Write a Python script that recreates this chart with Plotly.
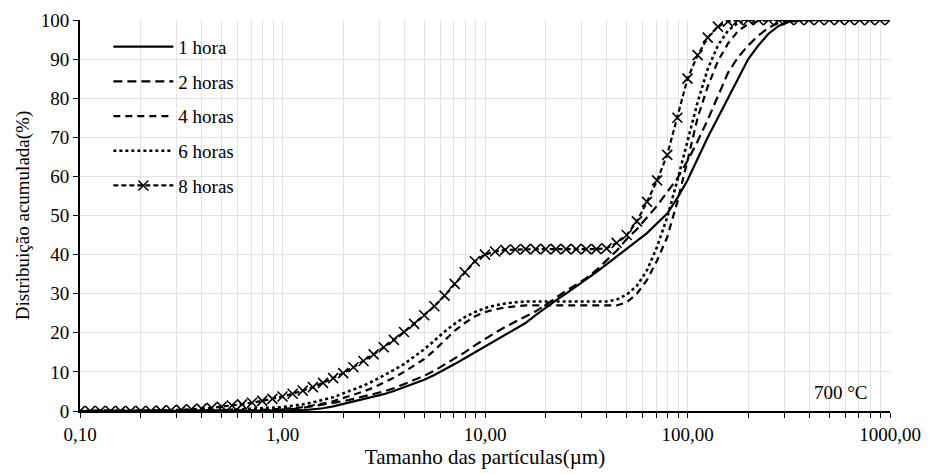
import plotly.graph_objects as go

# particle size classes (µm), 20 per decade
size_um = [0.1, 0.1122, 0.1259, 0.1413, 0.1585, 0.1778, 0.1995, 0.2239, 0.2512, 0.2818,
           0.3162, 0.3548, 0.3981, 0.4467, 0.5012, 0.5623, 0.6310, 0.7079, 0.7943, 0.8913,
           1.0, 1.122, 1.259, 1.413, 1.585, 1.778, 1.995, 2.239, 2.512, 2.818,
           3.162, 3.548, 3.981, 4.467, 5.012, 5.623, 6.310, 7.079, 7.943, 8.913,
           10.0, 11.22, 12.59, 14.13, 15.85, 17.78, 19.95, 22.39, 25.12, 28.18,
           31.62, 35.48, 39.81, 44.67, 50.12, 56.23, 63.10, 70.79, 79.43, 89.13,
           100.0, 112.2, 125.9, 141.3, 158.5, 177.8, 199.5, 223.9, 251.2, 281.8,
           316.2, 354.8, 398.1, 446.7, 501.2, 562.3, 631.0, 707.9, 794.3, 891.3, 1000.0]

h1 = [0]*20 + [0.0, 0.1, 0.2, 0.4, 0.7, 1.2, 1.8, 2.4, 3.0, 3.6,
               4.3, 5.1, 6.0, 7.0, 8.0, 9.2, 10.5, 12.0, 13.5, 15.0,
               16.5, 18.0, 19.5, 21.0, 22.5, 24.5, 26.5, 28.3, 30.0, 31.8,
               33.5, 35.5, 37.5, 39.5, 41.5, 43.5, 45.5, 48.0, 50.5, 54.5,
               59.0, 64.5, 70.0, 75.0, 80.0, 85.0, 90.0, 93.5, 96.5, 98.5,
               99.5, 99.9, 100, 100, 100, 100, 100, 100, 100, 100, 100]

h2 = [0]*14 + [0.02, 0.05, 0.08, 0.12, 0.17, 0.23,
               0.3, 0.5, 0.8, 1.2, 1.6, 2.0, 2.5, 3.1, 3.7, 4.3,
               5.0, 5.8, 6.8, 7.9, 9.0, 10.3, 11.8, 13.3, 15.0, 16.8,
               18.5, 20.0, 21.5, 22.8, 24.0, 25.5, 27.2, 29.0, 30.7, 32.3,
               34.0, 36.0, 38.5, 41.0, 44.0, 46.5, 49.5, 52.5, 56.0, 59.5,
               64.0, 69.0, 74.5, 80.5, 86.5, 90.5, 93.5, 96.0, 98.0, 99.3,
               99.8, 100, 100, 100, 100, 100, 100, 100, 100, 100, 100]

h4 = [0]*14 + [0.03, 0.07, 0.12, 0.2, 0.3, 0.4,
               0.5, 0.7, 1.0, 1.4, 1.9, 2.5, 3.3, 4.1, 5.0, 6.0,
               7.2, 8.5, 10.0, 11.6, 13.3, 15.5, 18.0, 20.5, 22.5, 24.2,
               25.3, 26.0, 26.5, 26.8, 27.0, 27.0, 27.0, 27.0, 27.0, 27.0,
               27.0, 27.0, 27.0, 27.0, 27.8, 30.0, 33.5, 38.5, 44.5, 53.5,
               64.0, 75.0, 83.0, 89.5, 94.0, 97.2, 99.0, 99.7, 100, 100,
               100, 100, 100, 100, 100, 100, 100, 100, 100, 100, 100]

h6 = [0]*12 + [0.1, 0.15, 0.2, 0.3, 0.4, 0.55, 0.7, 0.85,
               1.0, 1.3, 1.7, 2.2, 2.8, 3.5, 4.5, 5.5, 6.5, 7.7,
               9.0, 10.5, 12.0, 13.8, 15.8, 18.0, 20.3, 22.3, 24.0, 25.3,
               26.3, 27.0, 27.5, 27.8, 28.0, 28.0, 28.0, 28.0, 28.0, 28.0,
               28.0, 28.0, 28.0, 28.5, 29.8, 32.0, 36.0, 42.0, 49.6, 59.0,
               69.0, 79.0, 87.5, 93.5, 97.3, 99.3, 100, 100, 100, 100,
               100, 100, 100, 100, 100, 100, 100, 100, 100, 100, 100]

h8 = [0]*8 + [0.1, 0.2, 0.3, 0.45, 0.6, 0.8, 1.1, 1.4, 1.7, 2.1, 2.6, 3.1,
              3.7, 4.4, 5.2, 6.1, 7.2, 8.4, 9.7, 11.2, 12.8, 14.5,
              16.3, 18.2, 20.2, 22.3, 24.5, 26.8, 29.5, 32.5, 35.5, 38.3,
              40.0, 40.8, 41.2, 41.3, 41.4, 41.4, 41.4, 41.4, 41.4, 41.4,
              41.4, 41.4, 41.6, 43.0, 45.0, 48.5, 53.5, 59.0, 65.5, 75.0,
              85.0, 91.0, 95.5, 98.3, 99.6, 100, 100, 100, 100, 100,
              100, 100, 100, 100, 100, 100, 100, 100, 100, 100, 100]

series_names = ["1 hora", "2 horas", "4 horas", "6 horas", "8 horas"]
series_values = [h1, h2, h4, h6, h8]
dashes = ["solid", "9px,5px", "7px,5px", "dot", "5px,3px"]

x_tickvals = [0.1, 1, 10, 100, 1000]
x_ticktext = ["0,10", "1,00", "10,00", "100,00", "1000,00"]
y_tickvals = [0, 10, 20, 30, 40, 50, 60, 70, 80, 90, 100]

FONT = "Liberation Serif"

fig = go.Figure()
for i, (name, vals, dash) in enumerate(zip(series_names, series_values, dashes)):
    tr = dict(x=size_um, y=vals, name=name, legendgroup=name,
              line=dict(color="black", width=2.2 if dash != "dot" else 2.6, dash=dash))
    if name == "8 horas":
        tr.update(mode="lines+markers",
                  marker=dict(symbol="x-thin", size=10, line=dict(color="black", width=1.6)))
    else:
        tr.update(mode="lines")
    fig.add_trace(go.Scatter(**tr))

# all log grid positions for ticks/grid
grid_vals = []
for d in [0.1, 1, 10, 100]:
    for m in range(1, 10):
        grid_vals.append(round(d * m, 4))
grid_vals.append(1000)
grid_text = [x_ticktext[x_tickvals.index(v)] if v in x_tickvals else "" for v in grid_vals]

fig.update_layout(
    width=930, height=474,
    margin=dict(l=80, r=40, t=20, b=63),
    paper_bgcolor="white", plot_bgcolor="white",
    font=dict(family=FONT, color="black", size=18),
    showlegend=True,
    legend=dict(x=0.035, y=0.98, xanchor="left", yanchor="top",
                bgcolor="rgba(255,255,255,0)", font=dict(size=19, family=FONT),
                tracegroupgap=7, itemwidth=60),
    xaxis=dict(type="log", range=[-1, 3], tickvals=grid_vals, ticktext=grid_text,
               ticks="outside", ticklen=5, tickcolor="black", automargin=False,
               showline=True, linecolor="black", linewidth=2,
               showgrid=True, gridcolor="#e3e3e3", gridwidth=1, zeroline=False,
               tickfont=dict(size=19, family=FONT),
               title=dict(text="Tamanho das partículas(µm)", font=dict(size=21, family=FONT), standoff=2)),
    yaxis=dict(range=[0, 100], tickvals=y_tickvals,
               ticks="outside", ticklen=5, tickcolor="black", automargin=False,
               showline=True, linecolor="black", linewidth=2,
               showgrid=True, gridcolor="#e3e3e3", gridwidth=1, zeroline=False,
               tickfont=dict(size=19, family=FONT),
               title=dict(text="Distribuição acumulada(%)", font=dict(size=19, family=FONT), standoff=6)),
    annotations=[dict(text="700 °C", xref="paper", yref="paper", x=0.94, y=0.047,
                      showarrow=False, font=dict(size=19, family=FONT), xanchor="center", yanchor="middle")],
)

fig.write_html("out.html")
